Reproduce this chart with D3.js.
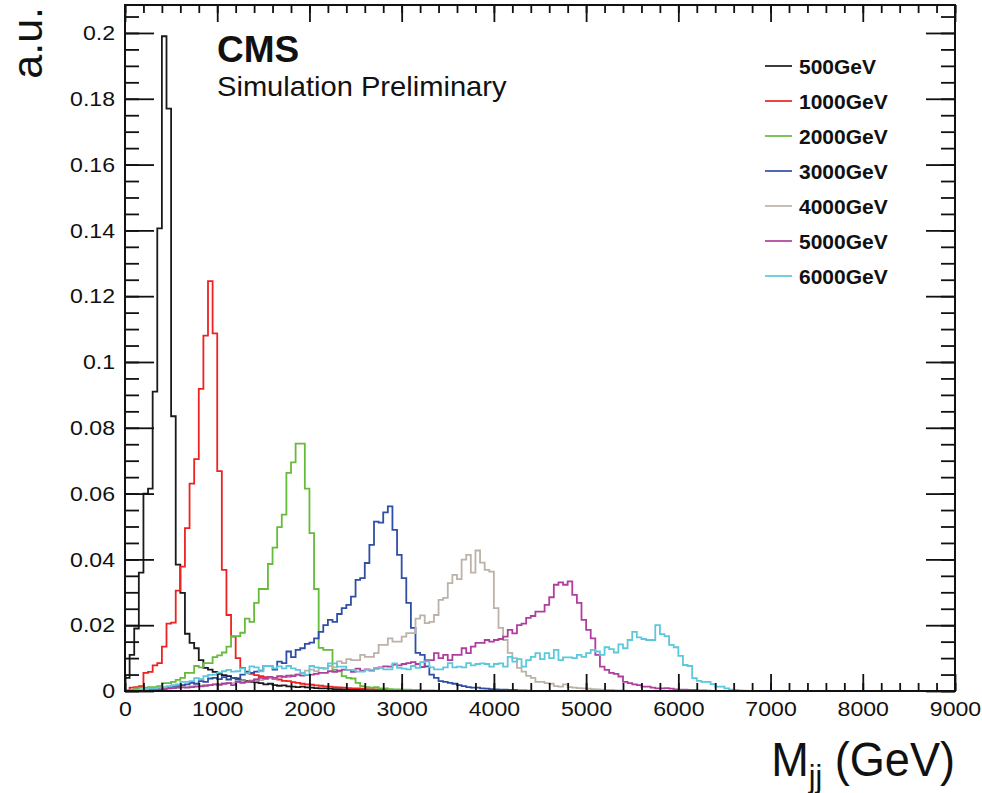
<!DOCTYPE html>
<html>
<head>
<meta charset="utf-8">
<script src="https://cdn.jsdelivr.net/npm/d3@7"></script>
<style>
  html, body { margin: 0; padding: 0; background: #fff; }
  svg { display: block; }
  text { font-family: "Liberation Sans", Arial, Helvetica, sans-serif; fill: #111; }
</style>
</head>
<body>
<svg id="chart" width="982" height="793"></svg>
<script>
// Dijet invariant mass spectra, 50 GeV bins starting at 0 GeV
const binWidth = 50;
const massMax = 9000;

const labels = ["500GeV", "1000GeV", "2000GeV", "3000GeV", "4000GeV", "5000GeV", "6000GeV"];
const colors = ["#1a1a1a", "#ee2222", "#66bb3c", "#2f4ea6", "#bcb2a8", "#b03e9e", "#5cc8dc"];

const h500 = [0.004, 0.011, 0.019, 0.036, 0.060, 0.0615, 0.091, 0.1406, 0.199, 0.177,
  0.0835, 0.0384, 0.0298, 0.0174, 0.0146, 0.013, 0.0094, 0.007, 0.0065, 0.0058,
  0.0052, 0.0048, 0.0045, 0.004, 0.0038, 0.0032, 0.003, 0.0028, 0.0026, 0.0024,
  0.002, 0.0022, 0.0018, 0.0016, 0.0017, 0.0014, 0.0013, 0.0012, 0.0013, 0.0011,
  0.001, 0.0009, 0.0008, 0.0008, 0.0007, 0.0006, 0.0006, 0.0005, 0.0004, 0.0004,
  0.0003, 0.0003, 0.0002, 0.0002, 0.0002, 0.0001];

const h1000 = [0.0002, 0.001, 0.0012, 0.0015, 0.0055, 0.0058, 0.0078, 0.0085, 0.0135, 0.0205,
  0.0208, 0.0305, 0.0378, 0.0495, 0.063, 0.0705, 0.0918, 0.108, 0.1246, 0.1087,
  0.0668, 0.0368, 0.0231, 0.0165, 0.010, 0.007, 0.0055, 0.0052, 0.0048, 0.0045,
  0.0042, 0.004, 0.0036, 0.0035, 0.0031, 0.003, 0.0027, 0.0025, 0.0022, 0.002,
  0.0019, 0.0017, 0.0016, 0.0014, 0.0013, 0.0012, 0.0011, 0.001, 0.0009, 0.0008,
  0.0008, 0.0007, 0.0006, 0.0006, 0.0005, 0.0004, 0.0004, 0.0003, 0.0003, 0.0002,
  0.0002, 0.0001];

const h2000 = [0, 0.0003, 0.0008, 0.001, 0.001, 0.0012, 0.0012, 0.0015, 0.0024, 0.0024,
  0.0028, 0.0034, 0.004, 0.0055, 0.0055, 0.0076, 0.0072, 0.0085, 0.0085, 0.0103,
  0.0108, 0.0117, 0.0135, 0.0167, 0.0167, 0.0177, 0.022, 0.021, 0.0268, 0.031,
  0.031, 0.0386, 0.0436, 0.0498, 0.0536, 0.0663, 0.0695, 0.0752, 0.0752, 0.0615,
  0.048, 0.031, 0.0131, 0.0125, 0.0125, 0.0064, 0.006, 0.0045, 0.004, 0.0038,
  0.0025, 0.0015, 0.0012, 0.001, 0.0012, 0.0008, 0.0008, 0.0006, 0.0005, 0.0005,
  0.0004, 0.0004, 0.0003, 0.0003, 0.0002, 0.0002, 0.0002, 0.0001];

const h3000 = [0, 0.0001, 0.0002, 0.0003, 0.0004, 0.0005, 0.0006, 0.0008, 0.0008, 0.001,
  0.0012, 0.0015, 0.0018, 0.002, 0.0025, 0.0022, 0.003, 0.0028, 0.0038, 0.004,
  0.0036, 0.0042, 0.0035, 0.004, 0.0035, 0.005, 0.0059, 0.0055, 0.0059, 0.0062,
  0.0076, 0.0076, 0.0065, 0.0089, 0.0085, 0.012, 0.0103, 0.0125, 0.013, 0.0143,
  0.0147, 0.016, 0.018, 0.020, 0.0216, 0.021, 0.0234, 0.0252, 0.0262, 0.0287,
  0.0338, 0.0343, 0.0389, 0.0444, 0.0515, 0.0512, 0.0543, 0.0561, 0.049, 0.0414,
  0.0343, 0.0268, 0.0192, 0.0116, 0.011, 0.0075, 0.005, 0.004, 0.003, 0.0028,
  0.0025, 0.0022, 0.0018, 0.0015, 0.0012, 0.001, 0.001, 0.0008, 0.0007, 0.0006,
  0.0005, 0.0004, 0.0004, 0.0003, 0.0003, 0.0002, 0.0002, 0.0001];

const h4000 = [0, 0.0001, 0.0002, 0.0003, 0.0003, 0.0004, 0.0005, 0.0006, 0.0007, 0.0008,
  0.0009, 0.001, 0.0011, 0.0012, 0.0014, 0.0015, 0.0016, 0.0018, 0.0018, 0.002,
  0.0021, 0.0023, 0.0025, 0.0024, 0.0028, 0.003, 0.0028, 0.0032, 0.0035, 0.0033,
  0.0036, 0.004, 0.0038, 0.0043, 0.0045, 0.0042, 0.0048, 0.005, 0.0055, 0.0062,
  0.0065, 0.006, 0.007, 0.0068, 0.0076, 0.0072, 0.009, 0.0085, 0.0097, 0.0094,
  0.0094, 0.011, 0.0104, 0.0104, 0.0115, 0.014, 0.014, 0.016, 0.015, 0.015,
  0.0165, 0.0176, 0.0176, 0.022, 0.023, 0.0206, 0.021, 0.0231, 0.0277, 0.0283,
  0.0328, 0.0353, 0.034, 0.0399, 0.0414, 0.036, 0.0427, 0.039, 0.0368, 0.0363,
  0.0252, 0.0192, 0.0155, 0.0116, 0.010, 0.007, 0.0059, 0.0046, 0.004, 0.0028,
  0.0028, 0.0024, 0.0022, 0.0015, 0.0013, 0.002, 0.0012, 0.001, 0.0009, 0.0008,
  0.0007, 0.0006, 0.0005, 0.0004, 0.0003, 0.0003, 0.0002, 0.0002, 0.0001];

const h5000 = [0, 0, 0, 0.0002, 0.0003, 0.0004, 0.0005, 0.0006, 0.0006, 0.0008,
  0.0009, 0.001, 0.0011, 0.001, 0.0012, 0.0013, 0.0014, 0.0016, 0.0018, 0.002,
  0.0019, 0.0022, 0.0024, 0.0018, 0.0028, 0.0025, 0.0028, 0.003, 0.0035, 0.004,
  0.0038, 0.0043, 0.004, 0.0045, 0.0043, 0.0047, 0.0045, 0.005, 0.0047, 0.0048,
  0.005, 0.0052, 0.0055, 0.0055, 0.006, 0.0058, 0.0062, 0.0065, 0.0064, 0.0058,
  0.0068, 0.0062, 0.0066, 0.0062, 0.0068, 0.0072, 0.0075, 0.0074, 0.008, 0.0078,
  0.0082, 0.0085, 0.0088, 0.0082, 0.0073, 0.0094, 0.0094, 0.0115, 0.010, 0.011,
  0.0094, 0.011, 0.011, 0.013, 0.0115, 0.0135, 0.0146, 0.0146, 0.0155, 0.015,
  0.0155, 0.0158, 0.0165, 0.0186, 0.0175, 0.020, 0.0205, 0.0222, 0.0228, 0.0241,
  0.0241, 0.0262, 0.0285, 0.0323, 0.033, 0.0323, 0.0333, 0.0292, 0.0268, 0.0216,
  0.0186, 0.016, 0.011, 0.0074, 0.0064, 0.0055, 0.0052, 0.0044, 0.0028, 0.0024,
  0.002, 0.0018, 0.0013, 0.0013, 0.001, 0.0008, 0.0008, 0.0009, 0.0007, 0.0005,
  0.0004, 0.0004, 0.0003, 0.0003, 0.0002, 0.0002, 0.0001];

const h6000 = [0, 0.0001, 0.0002, 0.0004, 0.0006, 0.0008, 0.0008, 0.001, 0.0012, 0.0015,
  0.0018, 0.002, 0.0028, 0.0028, 0.003, 0.0039, 0.0036, 0.0045, 0.0049, 0.005,
  0.0056, 0.006, 0.0064, 0.0059, 0.006, 0.0069, 0.0054, 0.0075, 0.0072, 0.006,
  0.0076, 0.0076, 0.0069, 0.0075, 0.0069, 0.0076, 0.0069, 0.0064, 0.0054, 0.0049,
  0.0076, 0.0072, 0.007, 0.0069, 0.0084, 0.0084, 0.0074, 0.0074, 0.0064, 0.0064,
  0.0059, 0.0059, 0.0064, 0.0064, 0.007, 0.007, 0.0066, 0.0066, 0.0084, 0.007,
  0.0068, 0.0066, 0.0076, 0.007, 0.0088, 0.009, 0.0072, 0.0066, 0.0066, 0.0072,
  0.0085, 0.0072, 0.0074, 0.0072, 0.0085, 0.0078, 0.0082, 0.0084, 0.0082, 0.0074,
  0.0082, 0.0084, 0.0074, 0.0104, 0.0089, 0.0097, 0.0074, 0.0094, 0.0104, 0.0115,
  0.0097, 0.0115, 0.010, 0.0125, 0.0094, 0.0102, 0.0102, 0.010, 0.011, 0.0104,
  0.0115, 0.0125, 0.012, 0.011, 0.0133, 0.0127, 0.0117, 0.0142, 0.013, 0.0155,
  0.018, 0.0163, 0.0158, 0.0155, 0.0155, 0.020, 0.0173, 0.0167, 0.014, 0.0133,
  0.0107, 0.0079, 0.0076, 0.0039, 0.0031, 0.0028, 0.0028, 0.0021, 0.0013, 0.0013,
  0.0008, 0.0004, 0.0003, 0.0002, 0.0001];

const series = [h500, h1000, h2000, h3000, h4000, h5000, h6000];

const yMajorTicks = [0, 0.02, 0.04, 0.06, 0.08, 0.1, 0.12, 0.14, 0.16, 0.18, 0.2];
const xMajorTicks = [0, 1000, 2000, 3000, 4000, 5000, 6000, 7000, 8000, 9000];

// ---- layout
const plot = { left: 125, right: 955, top: 5, bottom: 691 };
const yTop = 0.2085;
const labelFont = "'Liberation Sans', Arial, sans-serif";

const svg = d3.select("#chart");
svg.append("rect").attr("width", 982).attr("height", 793).attr("fill", "#fff");

const x = d3.scaleLinear().domain([0, massMax]).range([plot.left, plot.right]);
const y = d3.scaleLinear().domain([0, yTop]).range([plot.bottom, plot.top]);

svg.append("defs").append("clipPath").attr("id", "plotClip")
  .append("rect")
  .attr("x", plot.left).attr("y", plot.top)
  .attr("width", plot.right - plot.left).attr("height", plot.bottom - plot.top);

// ---- histograms (step outlines)
const line = d3.line().x(d => x(d[0])).y(d => y(d[1]));
const nBins = massMax / binWidth;

function stepPoints(vals) {
  const pts = [[0, 0]];
  for (let i = 0; i < nBins; i++) {
    const v = vals[i] || 0;
    pts.push([i * binWidth, v], [(i + 1) * binWidth, v]);
  }
  pts.push([massMax, 0]);
  return pts;
}

const histG = svg.append("g").attr("clip-path", "url(#plotClip)");
series.forEach((vals, k) => {
  histG.append("path")
    .attr("d", line(stepPoints(vals)))
    .attr("fill", "none")
    .attr("stroke", colors[k])
    .attr("stroke-width", 1.8)
    .attr("stroke-linejoin", "miter");
});

// ---- axes: major/minor ticks drawn inward on all four sides
const yMinor = d3.range(0, yTop, 0.005);
const xMinor = d3.range(0, massMax + 1, 200);
const tickStroke = "#111";

function styleAxis(g) {
  g.select(".domain").remove();
  g.selectAll("line").attr("stroke", tickStroke).attr("stroke-width", 1.8);
}

svg.append("g").attr("transform", `translate(${plot.left},0)`)
  .call(d3.axisLeft(y).tickValues(yMinor).tickSize(-14).tickFormat(""))
  .call(styleAxis);
svg.append("g").attr("transform", `translate(${plot.left},0)`)
  .call(d3.axisLeft(y).tickValues(yMajorTicks).tickSize(-29)
    .tickFormat(d => d3.format("~g")(+d.toFixed(2))))
  .call(styleAxis)
  .call(g => g.selectAll("text")
    .attr("x", 0)
    .attr("transform", "translate(-10,0) scale(1.1,1)")
    .attr("font-size", 21)
    .attr("font-family", labelFont)
    .attr("fill", "#111"));

svg.append("g").attr("transform", `translate(${plot.right},0)`)
  .call(d3.axisRight(y).tickValues(yMinor).tickSize(-14).tickFormat(""))
  .call(styleAxis);
svg.append("g").attr("transform", `translate(${plot.right},0)`)
  .call(d3.axisRight(y).tickValues(yMajorTicks).tickSize(-29).tickFormat(""))
  .call(styleAxis);

svg.append("g").attr("transform", `translate(0,${plot.bottom})`)
  .call(d3.axisBottom(x).tickValues(xMinor).tickSize(-8).tickFormat(""))
  .call(styleAxis);
svg.append("g").attr("transform", `translate(0,${plot.bottom})`)
  .call(d3.axisBottom(x).tickValues(xMajorTicks).tickSize(-17).tickFormat(d3.format("d")))
  .call(styleAxis)
  .call(g => g.selectAll("text")
    .attr("y", 0)
    .attr("dy", "0.71em")
    .attr("transform", "translate(0,10) scale(1.1,1)")
    .attr("font-size", 21)
    .attr("font-family", labelFont)
    .attr("fill", "#111"));

svg.append("g").attr("transform", `translate(0,${plot.top})`)
  .call(d3.axisTop(x).tickValues(xMinor).tickSize(-8).tickFormat(""))
  .call(styleAxis);
svg.append("g").attr("transform", `translate(0,${plot.top})`)
  .call(d3.axisTop(x).tickValues(xMajorTicks).tickSize(-17).tickFormat(""))
  .call(styleAxis);

// frame
svg.append("rect")
  .attr("x", plot.left).attr("y", plot.top)
  .attr("width", plot.right - plot.left).attr("height", plot.bottom - plot.top)
  .attr("fill", "none").attr("stroke", "#111").attr("stroke-width", 2);

// ---- axis titles
svg.append("text")
  .attr("transform", "translate(42,7) rotate(-90)")
  .attr("text-anchor", "end")
  .attr("font-size", 43)
  .text("a.u.");

const xTitle = svg.append("text")
  .attr("transform", "translate(955,776) scale(0.94,1)")
  .attr("text-anchor", "end")
  .attr("font-size", 48);
xTitle.append("tspan").text("M");
xTitle.append("tspan").attr("font-size", 32).attr("dy", 11).text("jj");
xTitle.append("tspan").attr("dy", -11).text(" (GeV)");

// ---- CMS label
svg.append("text").attr("x", 217).attr("y", 62)
  .attr("font-size", 37).attr("font-weight", "bold").text("CMS");
svg.append("text").attr("transform", "translate(217,96) scale(1.04,1)")
  .attr("font-size", 28).text("Simulation Preliminary");

// ---- legend
const legend = svg.append("g");
labels.forEach((lab, k) => {
  const ly = 66 + k * 35;
  legend.append("line")
    .attr("x1", 765).attr("x2", 792).attr("y1", ly).attr("y2", ly)
    .attr("stroke", colors[k]).attr("stroke-width", 1.7);
  legend.append("text")
    .attr("x", 799).attr("y", ly + 7.5)
    .attr("font-size", 21).attr("font-weight", "bold")
    .text(lab);
});
</script>
</body>
</html>
